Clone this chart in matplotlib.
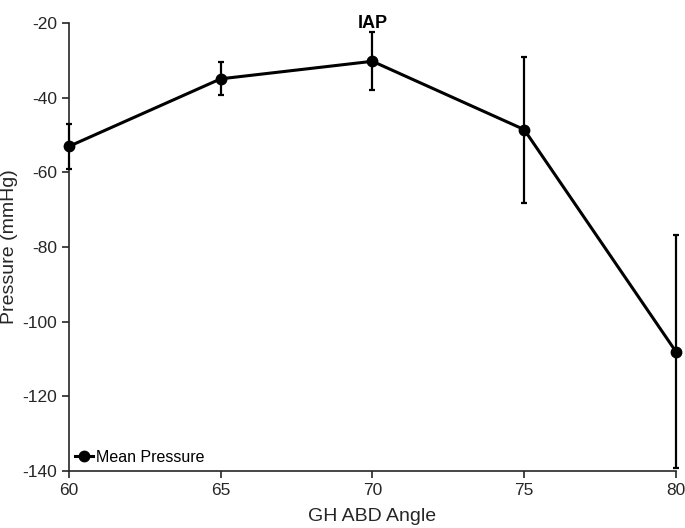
import numpy as np
import matplotlib.pyplot as plt
from matplotlib.lines import Line2D

plt.rcParams['font.family'] = ['Liberation Sans', 'DejaVu Sans']
plt.rcParams['axes.unicode_minus'] = False

angle = [60, 65, 70, 75, 80]
mean_pressure = [-53.0, -34.9, -30.2, -48.5, -108.0]
err_upper = [-47.0, -30.5, -22.4, -29.0, -76.8]
err_lower = [-59.1, -39.2, -37.9, -68.3, -139.3]

mean_pressure = np.array(mean_pressure)
yerr = [mean_pressure - np.array(err_lower), np.array(err_upper) - mean_pressure]

fig = plt.figure(figsize=(6.85, 5.28), dpi=100)
ax = fig.add_axes([0.1007, 0.108, 0.886, 0.848])

ax.errorbar(angle, mean_pressure, yerr=yerr, color='black', lw=2.2,
            marker='o', ms=7.5, elinewidth=1.6, capsize=2, capthick=1.6,
            clip_on=False, zorder=3)

ax.set_xlim(60, 80)
ax.set_ylim(-140, -20)
ax.set_xticks([60, 65, 70, 75, 80])
ax.set_yticks(np.arange(-140, -19, 20))

for s in ['top', 'right']:
    ax.spines[s].set_visible(False)
for s in ['left', 'bottom']:
    ax.spines[s].set_color('#262626')
    ax.spines[s].set_linewidth(1.2)
ax.tick_params(direction='out', length=5, width=1.2, color='#262626',
               labelsize=12.5, labelcolor='#262626')

ax.set_xlabel('GH ABD Angle', fontsize=14, color='#262626', labelpad=7)

# place y label and title by hand
ax.text(-0.098, 0.5, 'Pressure (mmHg)', transform=ax.transAxes, rotation=90,
        ha='center', va='center', fontsize=14, color='#262626')
ax.text(0.5, 1.0, 'IAP', transform=ax.transAxes, ha='center', va='center',
        fontsize=13, fontweight='bold')

handle = Line2D([], [], color='black', lw=2.2, marker='o', ms=7.5)
ax.legend([handle], ['Mean Pressure'], loc='lower left', frameon=False,
          fontsize=11.5, handlelength=1.1, handletextpad=0.2,
          borderaxespad=0.2, borderpad=0.2)

fig.savefig('out.png', dpi=100)
